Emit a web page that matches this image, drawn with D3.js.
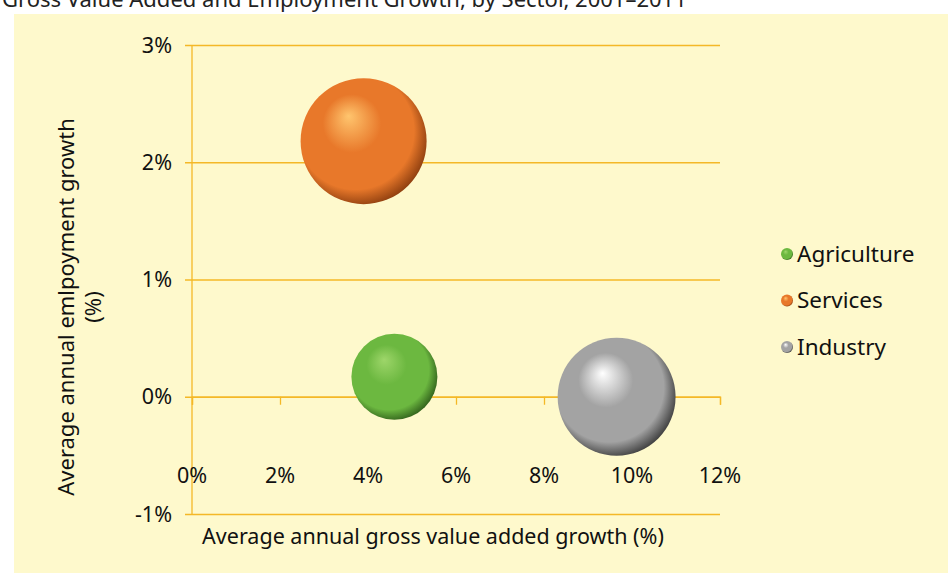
<!DOCTYPE html>
<html>
<head>
<meta charset="utf-8">
<script src="https://cdn.jsdelivr.net/npm/d3@7"></script>
<style>
 body{margin:0;background:#fff;}
 text{font-family:"Noto Sans",sans-serif;fill:#111;}
</style>
</head>
<body>
<div id="chart"></div>
<script>
// sectors, values
const sectors = ['Agriculture','Services','Industry'];
const gvaGrowth = [4.6, 3.9, 9.65];      // x, %
const empGrowth = [0.17, 2.18, 0.0];     // y, %
const bubbleSize = [19.9, 42.7, 37.4];   // bubble size
const xTicks = [0,2,4,6,8,10,12];
const yTicks = [-1,0,1,2,3];

const width = 950, height = 573;
const margin = {top:45, right:230, bottom:59, left:192};
const visWidth = width - margin.left - margin.right;
const visHeight = height - margin.top - margin.bottom;
const fontSize = '21.5px';

const svg = d3.select('#chart').append('svg')
    .attr('width', width)
    .attr('height', height);

// sphere colours: highlight, body, edge
const sphereColor = {
  'Agriculture':['#9ed66a','#6cb840','#2f5e1a'],
  'Services':['#ffc56e','#e8782a','#8a3c0e'],
  'Industry':['#ffffff','#a3a3a3','#3a3a3a']
};

const defs = svg.append('defs');
sectors.forEach(s=>{
  const c = sphereColor[s];
  const g = defs.append('radialGradient')
      .attr('id','grad-'+s)
      .attr('cx','0.45').attr('cy','0.45').attr('r','0.58')
      .attr('fx','0.38').attr('fy','0.3');
  g.append('stop').attr('offset','0%').attr('stop-color',c[0]);
  g.append('stop').attr('offset','40%').attr('stop-color',c[1]);
  g.append('stop').attr('offset','80%').attr('stop-color',c[1]);
  g.append('stop').attr('offset','100%').attr('stop-color',c[2]);
});

// panel background
svg.append('rect')
    .attr('x',14).attr('y',14)
    .attr('width',934).attr('height',height-14)
    .attr('fill','#fef9cc');

// title, cut off at the top like the source
svg.append('text')
    .attr('x',2).attr('y',7)
    .style('font-size','22px')
    .style('fill','#222')
    .text('Gross Value  Added and Employment Growth, by Sector, 2001–2011');

const container = svg.append('g')
    .attr('transform',`translate(${margin.left},${margin.top})`);

const xScale = d3.scaleLinear().domain([0,12]).range([0,visWidth]);
const yScale = d3.scaleLinear().domain([-1,3]).range([visHeight,0]);
const rScale = d3.scaleSqrt().domain([0,d3.max(bubbleSize)]).range([0,63]);

const gridColor = '#f4b827';

// horizontal grid lines
container.append('g')
    .attr('class','sub-grid-y')
    .call(d3.axisLeft(yScale).tickValues(yTicks).tickSize(-visWidth).tickFormat(''))
    .call(g=>g.select('.domain').remove())
    .selectAll('line')
    .attr('stroke',gridColor)
    .attr('stroke-width',1.3)
    .attr('x1',-7);

// y axis line
container.append('line')
    .attr('x1',0).attr('x2',0)
    .attr('y1',0).attr('y2',visHeight)
    .attr('stroke',gridColor).attr('stroke-width',1.3);

// y tick labels
container.append('g')
    .selectAll('text')
    .data(yTicks)
    .join('text')
    .attr('x',-20)
    .attr('y',d=>yScale(d))
    .attr('dy','0.35em')
    .attr('text-anchor','end')
    .style('font-size',fontSize)
    .text(d=>d<0 ? '-'+Math.abs(d)+'%' : d+'%');

// x axis at 0%
const xAxis = container.append('g')
    .attr('transform',`translate(0,${yScale(0)})`)
    .call(d3.axisBottom(xScale).tickValues(xTicks).tickSize(8).tickFormat(''));
xAxis.select('.domain').attr('stroke',gridColor).attr('stroke-width',1.3);
xAxis.selectAll('line').attr('stroke',gridColor).attr('stroke-width',1.3);

// x tick labels sit low, below the zero line
container.append('g')
    .selectAll('text')
    .data(xTicks)
    .join('text')
    .attr('x',d=>xScale(d))
    .attr('y',yScale(-0.67))
    .attr('dy','0.35em')
    .attr('text-anchor','middle')
    .style('font-size',fontSize)
    .text(d=>d+'%');

// bubbles
const bubbles = sectors.map((s,i)=>({name:s,x:gvaGrowth[i],y:empGrowth[i],size:bubbleSize[i]}));
container.append('g')
    .selectAll('circle')
    .data(bubbles)
    .join('circle')
    .attr('cx',d=>xScale(d.x))
    .attr('cy',d=>yScale(d.y))
    .attr('r',d=>rScale(d.size))
    .attr('fill',d=>'url(#grad-'+d.name+')');

// axis titles
svg.append('text')
    .attr('x',433).attr('y',544)
    .attr('text-anchor','middle')
    .style('font-size',fontSize)
    .text('Average annual gross value added growth (%)');

const yTitle = svg.append('text')
    .attr('transform','translate(66,307) rotate(-90)')
    .attr('text-anchor','middle')
    .style('font-size','22px');
yTitle.append('tspan').attr('x',0).attr('dy','0.35em').text('Average annual emlpoyment growth');
yTitle.append('tspan').attr('x',0).attr('dy','1.25em').text('(%)');

// legend
const legend = svg.append('g')
    .attr('transform','translate(787,254)');
const legendRow = legend.selectAll('g')
    .data(sectors)
    .join('g')
    .attr('transform',(d,i)=>`translate(0,${i*46.5})`);
legendRow.append('circle')
    .attr('r',6)
    .attr('fill',d=>'url(#grad-'+d+')');
legendRow.append('text')
    .attr('x',10)
    .attr('dy','0.35em')
    .style('font-size','22.5px')
    .text(d=>d);
</script>
</body>
</html>
